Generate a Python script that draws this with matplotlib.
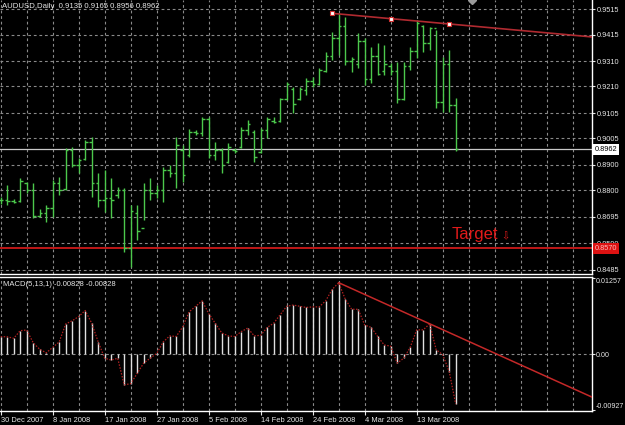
import matplotlib
matplotlib.use("Agg")
import matplotlib.pyplot as plt
import numpy as np

# ---------------- data ----------------
opens = [0.8760, 0.8762, 0.8758, 0.8756, 0.8830, 0.8800, 0.8700, 0.8710, 0.8730, 0.8830,
         0.8805, 0.8960, 0.8900, 0.8925, 0.8990, 0.8830, 0.8760, 0.8770, 0.8780, 0.8800,
         0.8570, 0.8710, 0.8650, 0.8800, 0.8790, 0.8800, 0.8880, 0.8870, 0.8960, 0.8940,
         0.9030, 0.9025, 0.9080, 0.8940, 0.8960, 0.8910, 0.8960, 0.8970, 0.9040, 0.9030,
         0.8950, 0.9040, 0.9075, 0.9075, 0.9160, 0.9200, 0.9160, 0.9195, 0.9230, 0.9220,
         0.9270, 0.9330, 0.9400, 0.9450, 0.9310, 0.9300, 0.9390, 0.9240, 0.9330, 0.9270,
         0.9290, 0.9270, 0.9160, 0.9290, 0.9350, 0.9450, 0.9380, 0.9440, 0.9150, 0.9300,
         0.9135]
highs = [0.8774, 0.8821, 0.8766, 0.8849, 0.8833, 0.8829, 0.8726, 0.8742, 0.8841, 0.8853,
         0.8967, 0.8971, 0.8928, 0.8999, 0.9010, 0.8868, 0.8880, 0.8849, 0.8813, 0.8809,
         0.8742, 0.8742, 0.8829, 0.8849, 0.8821, 0.8892, 0.8900, 0.9010, 0.8979, 0.9042,
         0.9038, 0.9089, 0.9089, 0.8991, 0.8967, 0.8987, 0.8967, 0.9050, 0.9078, 0.9038,
         0.9046, 0.9089, 0.9089, 0.9165, 0.9228, 0.9208, 0.9208, 0.9243, 0.9247, 0.9283,
         0.9346, 0.9425, 0.9500, 0.9485, 0.9327, 0.9421, 0.9402, 0.9366, 0.9382, 0.9374,
         0.9303, 0.9307, 0.9307, 0.9366, 0.9473, 0.9453, 0.9445, 0.9433, 0.9327, 0.9354,
         0.9165]
lows = [0.8746, 0.8742, 0.8750, 0.8754, 0.8789, 0.8690, 0.8694, 0.8675, 0.8694, 0.8781,
        0.8801, 0.8892, 0.8868, 0.8920, 0.8773, 0.8734, 0.8714, 0.8690, 0.8770, 0.8556,
        0.8497, 0.8603, 0.8683, 0.8762, 0.8770, 0.8754, 0.8853, 0.8809, 0.8833, 0.8932,
        0.9018, 0.9014, 0.8928, 0.8920, 0.8868, 0.8908, 0.8947, 0.8967, 0.9018, 0.8912,
        0.8947, 0.9006, 0.9066, 0.9070, 0.9157, 0.9105, 0.9157, 0.9176, 0.9208, 0.9216,
        0.9267, 0.9315, 0.9334, 0.9295, 0.9267, 0.9283, 0.9216, 0.9224, 0.9255, 0.9255,
        0.9255, 0.9145, 0.9157, 0.9275, 0.9323, 0.9346, 0.9354, 0.9125, 0.9109, 0.9109,
        0.8956]
closes = [0.8762, 0.8758, 0.8754, 0.8835, 0.8800, 0.8700, 0.8710, 0.8730, 0.8830, 0.8800,
          0.8960, 0.8900, 0.8920, 0.8990, 0.8830, 0.8760, 0.8770, 0.8760, 0.8800, 0.8570,
          0.8720, 0.8640, 0.8800, 0.8790, 0.8800, 0.8880, 0.8870, 0.8980, 0.8860, 0.9030,
          0.9025, 0.9080, 0.8940, 0.8960, 0.8900, 0.8970, 0.8955, 0.9040, 0.9060, 0.8930,
          0.9040, 0.9080, 0.9070, 0.9160, 0.9220, 0.9140, 0.9200, 0.9230, 0.9220, 0.9275,
          0.9330, 0.9400, 0.9450, 0.9310, 0.9320, 0.9390, 0.9240, 0.9330, 0.9260, 0.9300,
          0.9270, 0.9160, 0.9290, 0.9350, 0.9460, 0.9380, 0.9440, 0.9150, 0.9300, 0.9135,
          0.8962]
macd = [0.00286, 0.00286, 0.00260, 0.00386, 0.00397, 0.00187, 0.00078, 0.00020, 0.00110, 0.00200,
        0.00497, 0.00550, 0.00620, 0.00720, 0.00510, 0.00200, -0.00070, -0.00100, -0.00070, -0.00510,
        -0.00490, -0.00320, -0.00150, -0.00070, 0.00010, 0.00200, 0.00300, 0.00290, 0.00450, 0.00700,
        0.00790, 0.00880, 0.00670, 0.00510, 0.00350, 0.00300, 0.00290, 0.00370, 0.00430, 0.00300,
        0.00310, 0.00440, 0.00510, 0.00650, 0.00790, 0.00810, 0.00790, 0.00770, 0.00780, 0.00780,
        0.00880, 0.01070, 0.01180, 0.00910, 0.00740, 0.00740, 0.00480, 0.00440, 0.00290, 0.00150,
        0.00130, -0.00150, -0.00070, 0.00110, 0.00400, 0.00400, 0.00500, 0.00070, -0.00010, -0.00290,
        -0.00828]

price_ticks = [0.9515, 0.9415, 0.9310, 0.9210, 0.9105, 0.9005, 0.8900, 0.8800, 0.8695, 0.8590, 0.8485]
date_pos = [0, 8, 16, 24, 32, 40, 48, 56, 64]
date_labels = ["30 Dec 2007", "8 Jan 2008", "17 Jan 2008", "27 Jan 2008", "5 Feb 2008",
               "14 Feb 2008", "24 Feb 2008", "4 Mar 2008", "13 Mar 2008"]
macd_ticks = [0.01257, 0.0, -0.00927]
macd_tick_labels = ["0.01257", "0.00", "-0.00927"]

trend_x = [51, 60, 69]
trend_y = [0.9499, 0.9478, 0.9457]
macd_trend_x = [52, 66]
macd_trend_y = [0.0118, 0.0050]

current_price = 0.8962
target_price = 0.8570
title = "AUDUSD,Daily  0.9135 0.9165 0.8956 0.8962"
macd_title = "MACD(5,13,1) -0.00828 -0.00828"

# ---------------- style ----------------
FONT = ["Liberation Sans", "DejaVu Sans"]
plt.rcParams['font.family'] = FONT
BG = "black"
GREEN = "#4cc84c"
GRID = "#8a8a8a"
TXT = "#e6e6e6"

fig = plt.figure(figsize=(6.25, 4.25), dpi=100, facecolor=BG)
ax = fig.add_axes([0, 0.3553, 0.9472, 0.6447], facecolor=BG)
ax2 = fig.add_axes([0, 0.0329, 0.9472, 0.3153], facecolor=BG, sharex=ax)

idx = np.arange(len(closes))
xlim = (-0.108, 90.97)

# price bars
ax.vlines(idx, lows, highs, color=GREEN, lw=1.0, zorder=3)
ax.hlines(opens, idx - 0.38, idx, color=GREEN, lw=1.0, zorder=3)
ax.hlines(closes, idx, idx + 0.38, color=GREEN, lw=1.0, zorder=3)

ax.set_xlim(*xlim)
ax.set_ylim(0.84692, 0.95517)

# grids
vgrid = np.arange(0, 92, 4)
for a in (ax, ax2):
    for v in vgrid:
        a.axvline(v, color=GRID, lw=0.8, ls=(0, (2.5, 2.5)), zorder=1)
for p in price_ticks:
    ax.axhline(p, color=GRID, lw=0.8, ls=(0, (2.5, 2.5)), zorder=1)

# price axis labels
ax.yaxis.tick_right()
ax.set_yticks(price_ticks)
ax.set_yticklabels([f"{p:.4f}" for p in price_ticks])
ax.tick_params(axis='y', which='both', right=True, left=False, labelright=True, labelleft=False,
               length=2, width=0.8, color=TXT, labelcolor=TXT, labelsize=5.3, pad=1.5)
ax.tick_params(axis='x', which='both', bottom=False, top=False, labelbottom=False)

ax.spines["left"].set_visible(False)
ax.spines["top"].set_visible(False)
ax2.spines["left"].set_visible(False)
for a in (ax, ax2):
    for s in a.spines.values():
        s.set_color("white")
        s.set_linewidth(1.0)

# current price line and label
ax.axhline(current_price, color="#c8c8c8", lw=0.9, zorder=2)
ax.text(1.005, current_price, f"{current_price:.4f}", transform=ax.get_yaxis_transform(),
        ha="left", va="center", fontsize=5.3, color="black", zorder=6, clip_on=False,
        bbox=dict(boxstyle="square,pad=0.25", fc="white", ec="none"))

# target line and label
ax.axhline(target_price, color="#c01818", lw=1.4, zorder=2)
ax.text(1.005, target_price, f"{target_price:.4f}", transform=ax.get_yaxis_transform(),
        ha="left", va="center", fontsize=5.3, color="#ffb8b8", zorder=6, clip_on=False,
        bbox=dict(boxstyle="square,pad=0.25", fc="#dd1212", ec="none"))
ax.text(73.0, 0.8624, "Target", color="#e01a1a", fontsize=12, ha="center", va="center",
        zorder=5, family=FONT)
ax.text(77.6, 0.8619, "\u21e9", color="#e01a1a", fontsize=7, ha="center", va="center",
        zorder=5, family=["DejaVu Sans"])

# main trend line (ray from first point)
slope = (trend_y[-1] - trend_y[0]) / (trend_x[-1] - trend_x[0])
rx = np.array([trend_x[0], xlim[1]])
ax.plot(rx, trend_y[0] + slope * (rx - trend_x[0]), color="#b02a30", lw=1.2, zorder=4)
ax.plot(trend_x, trend_y, ls="none", marker="s", ms=3.2, mfc="white", mec="#d03030",
        mew=0.8, zorder=5)

# chart shift marker
ax.plot([len(closes) + 1.5], [ax.get_ylim()[1]], marker="D", ms=4, color="#9a9a9a",
        zorder=5, clip_on=True)

# ---------------- MACD ----------------
ax2.vlines(idx, 0, macd, color="#e0e0e0", lw=1.0, zorder=3)
ax2.plot(idx, macd, color="#b02020", ls=(0, (1.2, 1.2)), lw=0.9, zorder=4)
ax2.axhline(0, color=GRID, lw=0.8, ls=(0, (2.5, 2.5)), zorder=1)
ax2.set_ylim(-0.00943, 0.01274)

ms = (macd_trend_y[1] - macd_trend_y[0]) / (macd_trend_x[1] - macd_trend_x[0])
mx = np.array([macd_trend_x[0], xlim[1]])
ax2.plot(mx, macd_trend_y[0] + ms * (mx - macd_trend_x[0]), color="#c42828", lw=1.1, zorder=5)

ax2.yaxis.tick_right()
ax2.set_yticks(macd_ticks)
ax2.set_yticklabels(macd_tick_labels)
ax2.tick_params(axis='y', right=True, left=False, labelright=True, labelleft=False,
                length=2, width=0.8, color=TXT, labelcolor=TXT, labelsize=5.1, pad=1.0)
labs = ax2.get_yticklabels()
labs[0].set_va("top")
labs[2].set_va("bottom")

ax2.set_xticks(date_pos)
ax2.set_xticklabels(date_labels, ha="left")
ax2.tick_params(axis='x', which='major', bottom=True, length=3, width=0.8, color=TXT,
                labelcolor=TXT, labelsize=5.4, pad=1.5)
ax.set_xlim(*xlim)

# titles
fig.text(2 / 625, 1 - 6 / 425, title, color=TXT, fontsize=5.6, ha="left", va="center")
fig.text(3 / 625, 1 - 284 / 425, macd_title, color=TXT, fontsize=5.5, ha="left", va="center")

fig.savefig("out.png", dpi=100, facecolor=BG)
